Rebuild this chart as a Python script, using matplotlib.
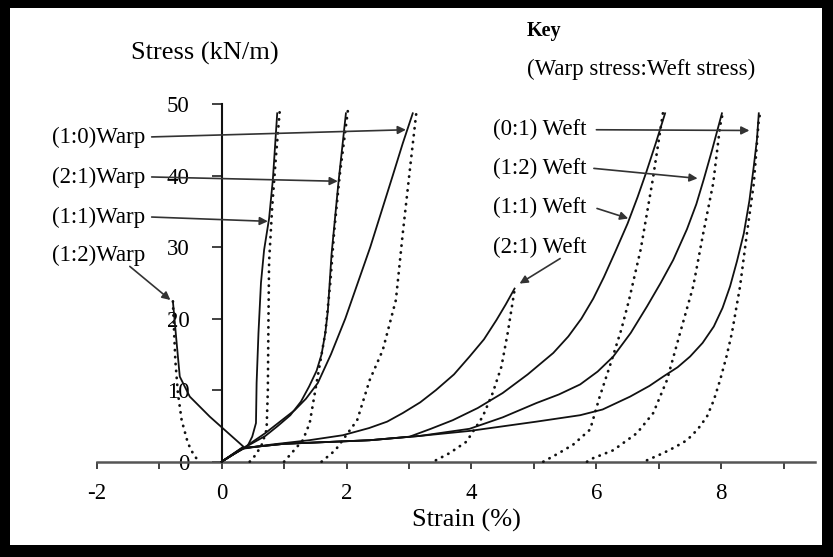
import matplotlib
matplotlib.use("Agg")
import matplotlib.pyplot as plt
from matplotlib.patches import Rectangle

plt.rcParams['font.family'] = ['Liberation Serif', 'DejaVu Serif']
plt.rcParams['axes.unicode_minus'] = False

# ---- data (strain %, stress kN/m) ----
# warp curves
warp11_x = [0, 0.2, 0.41, 0.49, 0.55, 0.56, 0.59, 0.63, 0.68, 0.76, 0.82, 0.89]
warp11_y = [0, 1.1, 2.1, 3.5, 5.4, 11, 18, 25, 29.6, 34, 39.4, 48.7]
warp11_dot_x = [0.45, 0.55, 0.65, 0.72, 0.74, 0.75, 0.76, 0.78, 0.81, 0.87, 0.93]
warp11_dot_y = [0, 1.0, 2.5, 4.5, 10, 20, 28, 31, 35.7, 42.7, 49]

warp21_x = [0, 0.35, 0.7, 0.9, 1.1, 1.27, 1.4, 1.52, 1.6, 1.66, 1.7, 1.76, 1.87, 1.99]
warp21_y = [0, 1.9, 3.6, 5.0, 6.5, 8.4, 10.5, 12.7, 15, 18, 21, 29, 39, 48.7]
warp21_dot_x = [1.0, 1.12, 1.3, 1.41, 1.52, 1.66, 1.74, 1.8, 1.89, 2.02]
warp21_dot_y = [0, 1.2, 3, 5.4, 11, 18, 25, 32, 40, 49]

warp10_x = [0, 0.35, 0.7, 1.17, 1.35, 1.54, 1.75, 1.98, 2.18, 2.38, 2.56, 2.74, 2.9, 3.06]
warp10_y = [0, 1.9, 4.0, 7.2, 8.8, 11, 15, 20, 25, 30, 35, 40, 44.5, 48.7]
warp10_dot_x = [1.6, 1.82, 2.17, 2.37, 2.58, 2.79, 2.9, 3.02, 3.12]
warp10_dot_y = [0, 1.6, 5.8, 11.4, 15.6, 22.6, 31.9, 41.3, 49]

warp12_x = [0, 0.35, -0.19, -0.51, -0.67, -0.72, -0.78]
warp12_y = [0, 2.1, 6.3, 9.1, 11.9, 16.6, 22.4]
warp12_dot_x = [-0.78, -0.76, -0.74, -0.70, -0.64, -0.54, -0.45, -0.38]
warp12_dot_y = [22.4, 18, 14, 9.6, 5.8, 2.6, 1.0, 0.2]

# weft curves
weft21_x = [0, 0.33, 0.8, 1.4, 1.94, 2.36, 2.65, 2.9, 3.18, 3.43, 3.72, 3.97, 4.2, 4.4, 4.55, 4.69]
weft21_y = [0, 1.8, 2.4, 3.0, 3.7, 4.7, 5.6, 6.8, 8.3, 10, 12.2, 14.7, 17.1, 19.8, 22, 24.2]
weft21_dot_x = [3.43, 3.65, 3.92, 4.18, 4.34, 4.48, 4.58, 4.69]
weft21_dot_y = [0.2, 1.2, 2.8, 6.3, 9.6, 13.3, 18, 24]

weft11_x = [0, 0.33, 1.0, 2.37, 3.01, 3.35, 3.7, 4.1, 4.5, 4.9, 5.31, 5.55, 5.76, 5.95,
            6.12, 6.3, 6.5, 6.66, 6.8, 6.95, 7.1]
weft11_y = [0, 1.9, 2.5, 3.0, 3.5, 4.6, 5.8, 7.5, 9.6, 12.2, 15.2, 17.5, 20, 22.8,
            25.8, 29.3, 33.3, 37, 40.5, 44.5, 48.7]
weft11_dot_x = [5.15, 5.4, 5.63, 5.9, 6.05, 6.22, 6.4, 6.52, 6.71, 6.9, 7.07]
weft11_dot_y = [0, 1.2, 2.4, 4.5, 9, 13.5, 18.5, 22.5, 29.7, 39.3, 49]

weft12_x = [0, 0.33, 1.0, 2.37, 3.17, 3.97, 4.5, 5.04, 5.4, 5.74, 6.02, 6.27, 6.55, 6.81,
            7.03, 7.23, 7.45, 7.6, 7.72, 7.85, 8.01]
weft12_y = [0, 1.9, 2.5, 3.0, 3.6, 4.6, 6.2, 8.2, 9.4, 10.8, 12.6, 14.7, 18, 21.7,
            25, 28.2, 32.5, 36, 39.5, 43.5, 48.7]
weft12_dot_x = [5.85, 5.95, 6.27, 6.65, 6.91, 7.13, 7.34, 7.55, 7.71, 7.87, 7.98, 8.03]
weft12_dot_y = [0, 0.5, 1.6, 4.0, 6.8, 11.4, 18, 24.5, 31.9, 38.9, 46.9, 49]

weft01_x = [0, 0.33, 1.0, 2.37, 3.17, 3.97, 5.04, 5.74, 6.1, 6.54, 6.85, 7.07, 7.3, 7.5,
            7.7, 7.88, 8.02, 8.14, 8.25, 8.36, 8.45, 8.52, 8.57, 8.6]
weft01_y = [0, 1.9, 2.5, 3.0, 3.6, 4.3, 5.6, 6.5, 7.3, 9.1, 10.6, 11.9, 13.2, 14.7,
            16.6, 18.9, 21.5, 24.5, 28, 31.9, 36.5, 41.3, 45, 48.7]
weft01_dot_x = [6.81, 7.07, 7.25, 7.45, 7.62, 7.77, 7.88, 7.98, 8.08, 8.17, 8.3, 8.41,
                8.52, 8.6, 8.63]
weft01_dot_y = [0.2, 1.2, 2.0, 3.0, 4.5, 6.3, 8.6, 11.4, 14.6, 18, 24.5, 31.9,
                38.9, 47.8, 49]

# labels: text, text position, arrow start, arrow tip
left_labels = ['(1:0)Warp', '(2:1)Warp', '(1:1)Warp', '(1:2)Warp']
left_text_y = [45.4, 39.8, 34.2, 28.9]
left_start = [(-1.12, 45.4), (-1.12, 39.8), (-1.12, 34.2), (-1.47, 27.3)]
left_tip = [(2.95, 46.4), (1.86, 39.2), (0.74, 33.6), (-0.82, 22.6)]

right_labels = ['(0:1) Weft', '(1:2) Weft', '(1:1) Weft', '(2:1) Weft']
right_text_y = [46.4, 41.0, 35.6, 30.0]
right_start = [(6.0, 46.4), (5.96, 41.0), (6.01, 35.4), (5.42, 28.4)]
right_tip = [(8.45, 46.3), (7.62, 39.6), (6.51, 34.0), (4.77, 24.9)]

W, H = 833, 557
fig = plt.figure(figsize=(W / 100, H / 100), dpi=100, facecolor='black')
fig.patches.append(Rectangle((10 / W, 12 / H), 812 / W, 537 / H,
                             transform=fig.transFigure, facecolor='white',
                             edgecolor='none', zorder=-10))

ax = fig.add_axes([96.7 / W, 1 - 461.7 / H, (815 - 96.7) / W, (461.7 - 104) / H])
ax.set_zorder(2)
ax.patch.set_alpha(0)
ax.set_xlim(-2, 9.5)
ax.set_ylim(0, 50)

for s in ['top', 'right']:
    ax.spines[s].set_visible(False)
ax.spines['left'].set_position(('data', 0))
ax.spines['left'].set_bounds(0, 50)
ax.spines['left'].set_linewidth(1.5)
ax.spines['left'].set_color('#111111')
ax.spines['bottom'].set_linewidth(1.8)
ax.spines['bottom'].set_color('#555555')

ax.set_xticks(range(-2, 10))
ax.set_xticklabels([str(v) if v % 2 == 0 else '' for v in range(-2, 10)])
ax.set_yticks([0, 10, 20, 30, 40, 50])
ax.set_yticklabels(['0', '10', '20', '30', '40', '50'])
ax.tick_params(axis='x', direction='out', length=5, width=1.3, pad=10,
               labelsize=16.5, color='#333333')
ax.tick_params(axis='y', direction='out', length=7, width=1.3, pad=16,
               labelsize=16.5, color='#333333')

solid = dict(color='#111111', lw=1.3, clip_on=False, zorder=3)
dots = dict(color='#111111', lw=2.0, linestyle=(0, (0.1, 2.4)),
            dash_capstyle='round', clip_on=False, zorder=3)

for xs, ys in [(warp11_x, warp11_y), (warp21_x, warp21_y), (warp10_x, warp10_y),
               (warp12_x, warp12_y), (weft21_x, weft21_y), (weft11_x, weft11_y),
               (weft12_x, weft12_y), (weft01_x, weft01_y)]:
    ax.plot(xs, ys, **solid)

for xs, ys in [(warp11_dot_x, warp11_dot_y), (warp21_dot_x, warp21_dot_y),
               (warp10_dot_x, warp10_dot_y), (warp12_dot_x, warp12_dot_y),
               (weft21_dot_x, weft21_dot_y), (weft11_dot_x, weft11_dot_y),
               (weft12_dot_x, weft12_dot_y), (weft01_dot_x, weft01_dot_y)]:
    ax.plot(xs, ys, **dots)

arrow = dict(arrowstyle='-|>', color='#333333', lw=1.2, mutation_scale=12,
             shrinkA=0, shrinkB=0)
for lab, ty, st, tp in zip(left_labels, left_text_y, left_start, left_tip):
    ax.text(-2.72, ty, lab, fontsize=16.5, ha='left', va='center')
    ax.annotate('', xy=tp, xytext=st, arrowprops=arrow, annotation_clip=False)
for lab, ty, st, tp in zip(right_labels, right_text_y, right_start, right_tip):
    ax.text(4.34, ty, lab, fontsize=16.5, ha='left', va='center')
    ax.annotate('', xy=tp, xytext=st, arrowprops=arrow, annotation_clip=False)

fig.text(205 / W, 1 - 53 / H, 'Stress (kN/m)', fontsize=19, ha='center', va='center')
fig.text(527 / W, 1 - 31 / H, 'Key', fontsize=14.5, fontweight='bold',
         ha='left', va='center')
fig.text(527 / W, 1 - 69 / H, '(Warp stress:Weft stress)', fontsize=16.5,
         ha='left', va='center')
fig.text(466 / W, 1 - 520 / H, 'Strain (%)', fontsize=19, ha='center', va='center')

fig.savefig('out.png', dpi=100, facecolor=fig.get_facecolor())
